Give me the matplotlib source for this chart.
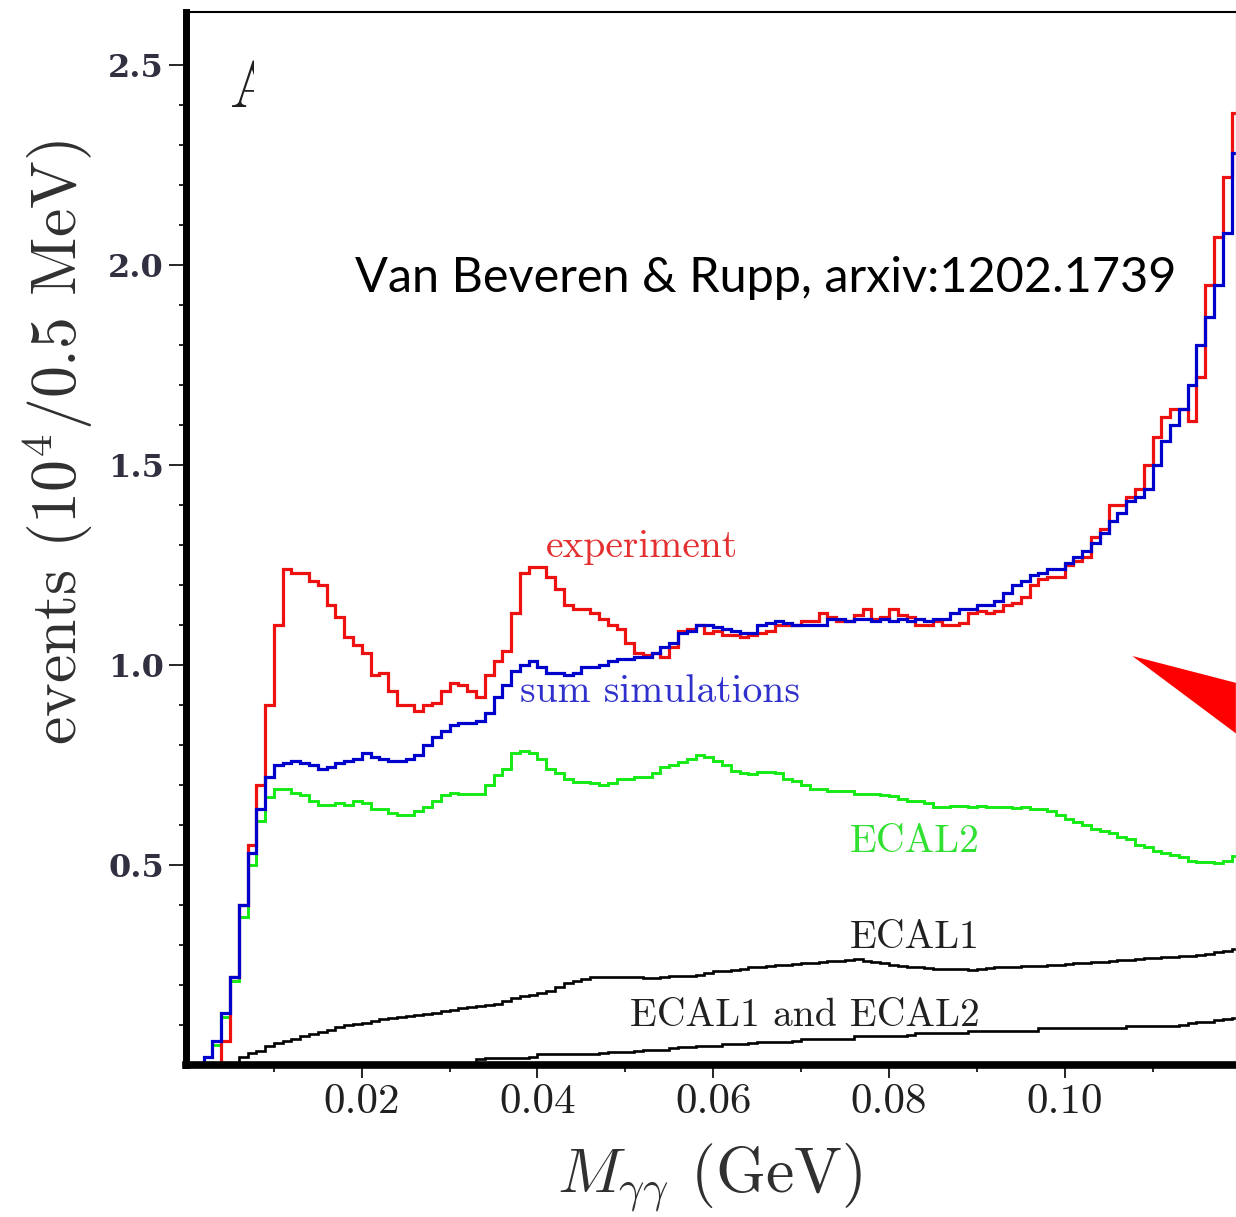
import numpy as np
import matplotlib
matplotlib.use("Agg")
import matplotlib.pyplot as plt
from matplotlib.patches import Polygon
from matplotlib.ticker import FixedLocator
from matplotlib.transforms import Bbox, TransformedBbox

plt.rcParams['mathtext.fontset'] = 'cm'
plt.rcParams['axes.unicode_minus'] = False

# bin edges in GeV, 1 MeV bins from 0 to 0.12
edges = np.linspace(0, 0.12, 121)

# events (10^4 / 0.5 MeV)
experiment = [
    0, 0, 0, 0, 0.06, 0.22, 0.40, 0.55, 0.70, 0.90,
    1.10, 1.24, 1.23, 1.23, 1.21, 1.20, 1.15, 1.12, 1.07, 1.05,
    1.03, 0.975, 0.98, 0.935, 0.90, 0.90, 0.885, 0.90, 0.905, 0.935,
    0.955, 0.95, 0.935, 0.92, 0.975, 1.01, 1.035, 1.13, 1.23, 1.245,
    1.245, 1.22, 1.19, 1.15, 1.14, 1.14, 1.13, 1.115, 1.10, 1.09,
    1.055, 1.03, 1.025, 1.03, 1.02, 1.045, 1.085, 1.09, 1.10, 1.08,
    1.085, 1.075, 1.075, 1.07, 1.075, 1.08, 1.085, 1.10, 1.10, 1.10,
    1.11, 1.11, 1.13, 1.12, 1.11, 1.11, 1.125, 1.14, 1.115, 1.12,
    1.14, 1.125, 1.12, 1.10, 1.10, 1.11, 1.10, 1.10, 1.105, 1.13,
    1.135, 1.13, 1.135, 1.15, 1.155, 1.17, 1.20, 1.215, 1.22, 1.22,
    1.25, 1.26, 1.27, 1.32, 1.34, 1.40, 1.40, 1.42, 1.44, 1.50,
    1.57, 1.62, 1.64, 1.64, 1.61, 1.72, 1.95, 2.07, 2.22, 2.38,
]

sum_sim = [
    0, 0, 0.02, 0.06, 0.13, 0.22, 0.40, 0.53, 0.64, 0.72,
    0.75, 0.755, 0.76, 0.755, 0.75, 0.74, 0.745, 0.755, 0.76, 0.765,
    0.78, 0.77, 0.765, 0.76, 0.76, 0.765, 0.775, 0.80, 0.82, 0.835,
    0.85, 0.855, 0.855, 0.86, 0.88, 0.92, 0.95, 0.985, 1.00, 1.01,
    0.995, 0.98, 0.98, 0.975, 0.98, 0.995, 0.995, 1.00, 1.01, 1.015,
    1.015, 1.02, 1.02, 1.03, 1.045, 1.055, 1.08, 1.085, 1.10, 1.10,
    1.095, 1.09, 1.085, 1.08, 1.08, 1.10, 1.105, 1.11, 1.105, 1.10,
    1.10, 1.10, 1.10, 1.115, 1.115, 1.11, 1.115, 1.115, 1.11, 1.115,
    1.11, 1.115, 1.11, 1.115, 1.11, 1.115, 1.115, 1.13, 1.14, 1.14,
    1.15, 1.15, 1.16, 1.18, 1.20, 1.21, 1.225, 1.23, 1.24, 1.24,
    1.255, 1.27, 1.285, 1.305, 1.33, 1.36, 1.38, 1.41, 1.42, 1.44,
    1.50, 1.56, 1.60, 1.64, 1.70, 1.80, 1.87, 1.95, 2.08, 2.28,
]

ecal2 = [
    0, 0, 0.02, 0.05, 0.12, 0.21, 0.37, 0.50, 0.61, 0.67,
    0.69, 0.69, 0.68, 0.675, 0.66, 0.65, 0.65, 0.655, 0.65, 0.66,
    0.655, 0.64, 0.64, 0.63, 0.625, 0.625, 0.635, 0.645, 0.66, 0.675,
    0.68, 0.677, 0.677, 0.677, 0.70, 0.725, 0.74, 0.78, 0.785, 0.78,
    0.765, 0.74, 0.73, 0.715, 0.707, 0.707, 0.705, 0.70, 0.705, 0.715,
    0.715, 0.72, 0.72, 0.73, 0.745, 0.75, 0.757, 0.765, 0.775, 0.77,
    0.76, 0.75, 0.735, 0.73, 0.727, 0.733, 0.733, 0.73, 0.715, 0.71,
    0.70, 0.69, 0.69, 0.685, 0.685, 0.685, 0.677, 0.677, 0.677, 0.675,
    0.673, 0.665, 0.66, 0.66, 0.655, 0.645, 0.645, 0.648, 0.648, 0.645,
    0.648, 0.645, 0.645, 0.645, 0.643, 0.645, 0.64, 0.64, 0.635, 0.625,
    0.615, 0.607, 0.60, 0.59, 0.585, 0.58, 0.57, 0.565, 0.55, 0.545,
    0.535, 0.53, 0.525, 0.52, 0.51, 0.508, 0.507, 0.505, 0.51, 0.523,
]

ecal1 = [
    0, 0, 0, 0, 0, 0, 0.02, 0.03, 0.035, 0.047,
    0.055, 0.06, 0.065, 0.072, 0.078, 0.083, 0.088, 0.095, 0.10, 0.103,
    0.106, 0.11, 0.115, 0.117, 0.12, 0.123, 0.125, 0.127, 0.13, 0.135,
    0.137, 0.142, 0.144, 0.147, 0.15, 0.153, 0.16, 0.168, 0.172, 0.175,
    0.18, 0.185, 0.195, 0.205, 0.21, 0.215, 0.22, 0.22, 0.22, 0.22,
    0.22, 0.22, 0.218, 0.218, 0.22, 0.222, 0.222, 0.222, 0.225, 0.23,
    0.235, 0.235, 0.237, 0.24, 0.245, 0.245, 0.247, 0.25, 0.25, 0.252,
    0.255, 0.255, 0.257, 0.26, 0.26, 0.262, 0.265, 0.26, 0.257, 0.255,
    0.25, 0.248, 0.246, 0.245, 0.242, 0.24, 0.24, 0.24, 0.24, 0.238,
    0.24, 0.242, 0.245, 0.245, 0.245, 0.247, 0.248, 0.248, 0.25, 0.25,
    0.252, 0.255, 0.256, 0.257, 0.258, 0.26, 0.262, 0.263, 0.265, 0.267,
    0.268, 0.27, 0.27, 0.272, 0.273, 0.275, 0.278, 0.283, 0.285, 0.29,
]

ecal12 = [
    0, 0, 0, 0, 0, 0, 0, 0, 0, 0,
    0, 0, 0, 0, 0, 0, 0, 0, 0, 0,
    0, 0, 0, 0, 0, 0, 0, 0, 0, 0,
    0, 0, 0, 0.015, 0.017, 0.017, 0.017, 0.017, 0.017, 0.02,
    0.027, 0.027, 0.027, 0.027, 0.027, 0.027, 0.027, 0.03, 0.032, 0.032,
    0.032, 0.035, 0.038, 0.038, 0.038, 0.042, 0.045, 0.045, 0.047, 0.048,
    0.048, 0.052, 0.052, 0.052, 0.055, 0.058, 0.058, 0.058, 0.058, 0.06,
    0.065, 0.065, 0.065, 0.065, 0.065, 0.065, 0.072, 0.072, 0.072, 0.072,
    0.072, 0.072, 0.075, 0.08, 0.08, 0.08, 0.08, 0.08, 0.08, 0.085,
    0.085, 0.085, 0.085, 0.085, 0.085, 0.085, 0.085, 0.092, 0.092, 0.092,
    0.092, 0.092, 0.092, 0.092, 0.092, 0.092, 0.092, 0.098, 0.098, 0.098,
    0.098, 0.098, 0.098, 0.10, 0.105, 0.108, 0.108, 0.113, 0.115, 0.117,
]

xticks = [0.02, 0.04, 0.06, 0.08, 0.10]
xtick_labels = ['0.02', '0.04', '0.06', '0.08', '0.10']
xminor = [0.01, 0.03, 0.05, 0.07, 0.09, 0.11]
yticks = [0.5, 1.0, 1.5, 2.0, 2.5]
ytick_labels = ['0.5', '1.0', '1.5', '2.0', '2.5']
yminor = [0.1, 0.2, 0.3, 0.4, 0.6, 0.7, 0.8, 0.9, 1.1, 1.2, 1.3, 1.4,
          1.6, 1.7, 1.8, 1.9, 2.1, 2.2, 2.3, 2.4]

fig = plt.figure(figsize=(12.36, 12.17), dpi=100)
ax = fig.add_axes([0.1505, 0.1249, 0.8495, 0.8652])

ax.stairs(ecal12, edges, color='black', lw=1.9, baseline=None)
ax.stairs(ecal1, edges, color='black', lw=1.9, baseline=None)
ax.stairs(ecal2, edges, color='#14ea14', lw=2.1, baseline=None)
ax.stairs(experiment, edges, color='#ee1111', lw=2.3, baseline=None)
ax.stairs(sum_sim, edges, color='#0000cc', lw=2.3, baseline=None)

ax.set_xlim(0, 0.1195)
ax.set_ylim(0, 2.6325)

ax.xaxis.set_major_locator(FixedLocator(xticks))
ax.xaxis.set_minor_locator(FixedLocator(xminor))
ax.set_xticklabels(xtick_labels, fontfamily='cmr10', fontsize=31, color='#202020')
ax.yaxis.set_major_locator(FixedLocator(yticks))
ax.yaxis.set_minor_locator(FixedLocator(yminor))
ax.set_yticklabels(ytick_labels, fontfamily='DejaVu Serif', fontweight='bold',
                   fontsize=23, color='#303040')

ax.tick_params(axis='x', which='major', direction='out', length=9, width=1.2, pad=4)
ax.tick_params(axis='x', which='minor', direction='out', length=5, width=1.2)
ax.tick_params(axis='y', which='major', direction='out', length=12, width=1.2, pad=4)
ax.tick_params(axis='y', which='minor', direction='out', length=5, width=1.2)

ax.spines['left'].set_linewidth(5)
ax.spines['bottom'].set_linewidth(5.5)
ax.spines['top'].set_linewidth(1.5)
ax.spines['right'].set_linewidth(1)
ax.spines['right'].set_color('#cccccc')

# curve labels
lab = dict(fontfamily='cmr10', fontsize=28.5, ha='left', va='baseline')
ax.text(0.0409, 1.27, 'experiment', color='#e43030', **lab)
ax.text(0.0380, 0.9075, 'sum simulations', color='#3030cc', **lab)
ax.text(0.0756, 0.5325, 'ECAL2', color='#30e030', **lab)
ax.text(0.0756, 0.2925, 'ECAL1', color='#202020', **lab)
ax.text(0.0505, 0.0975, 'ECAL1 and ECAL2', color='#202020', **lab)

# half hidden panel letter
t = ax.text(0.0050, 2.395, 'A', fontfamily='cmr10', fontsize=46, color='#202020',
            va='baseline')
t.set_clip_box(TransformedBbox(Bbox([[0, 2.3], [0.0077, 2.62]]), ax.transData))
t.set_clip_on(True)

# citation
ax.text(0.0192, 1.9325, 'Van Beveren & Rupp, arxiv:1202.1739', fontfamily='Lato',
        fontsize=35, color='black', ha='left', va='baseline')

# red arrow head
tri = Polygon([[0.1077, 1.0225], [0.1222, 0.94], [0.1205, 0.8125]],
              closed=True, color='#ff0000', lw=0)
ax.add_patch(tri)

fig.text(58 / 1236, 1 - 442 / 1217, r'events (10$^4$/0.5 MeV)', rotation=90,
         fontfamily='cmr10', fontsize=46, ha='center', va='center', color='#303030')
fig.text(710 / 1236, 1 - 1178 / 1217, r'$M_{\gamma\gamma}$ (GeV)',
         fontfamily='cmr10', fontsize=46, ha='center', va='center', color='#303030')

fig.savefig('out.png', dpi=100)
